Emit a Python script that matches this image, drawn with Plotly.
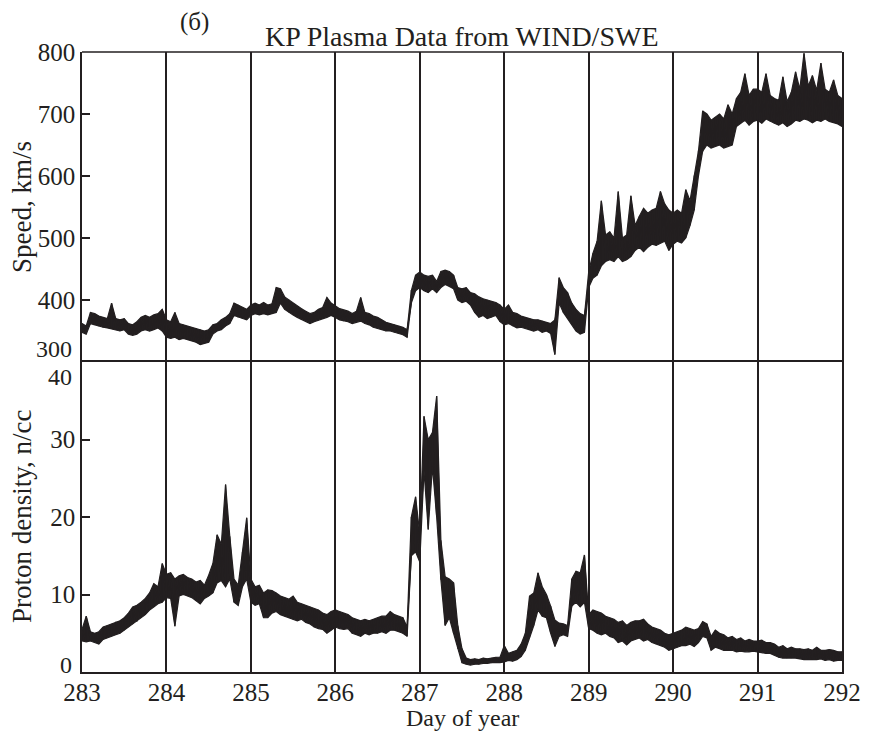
import plotly.graph_objects as go

# time grid: 283.00 .. 292.00 every 0.05 day
days = [round(283 + 0.05 * i, 2) for i in range(181)]

# Solar wind speed (km/s): lower / upper edge of the noisy band read per 0.05 day
speed_lo = [
    348, 345, 362, 360, 358, 356, 355, 354, 352, 350, 352, 345, 343, 345, 350, 352, 350, 352, 355, 350,  # 283
    340, 338, 340, 336, 338, 336, 334, 332, 328, 330, 332, 345, 350, 352, 358, 362, 375, 372, 370, 368,  # 284
    375, 378, 376, 378, 376, 378, 380, 395, 385, 380, 376, 372, 368, 365, 362, 365, 368, 370, 372, 375,  # 285
    372, 368, 366, 365, 362, 364, 366, 362, 360, 356, 355, 352, 350, 350, 348, 346, 344, 340, 395, 415,  # 286
    420, 415, 412, 418, 412, 420, 425, 422, 418, 400, 396, 398, 392, 380, 372, 375, 370, 372, 375, 365,  # 287
    360, 362, 358, 355, 356, 355, 352, 350, 352, 348, 350, 346, 312, 395, 380, 372, 360, 350, 345, 348,  # 288
    420, 435, 440, 455, 462, 465, 462, 470, 462, 465, 470, 480, 485, 478, 485, 490, 488, 492, 495, 480,  # 289
    490, 495, 492, 500, 520, 545, 600, 640, 650, 645, 648, 650, 645, 648, 650, 680, 685, 690, 682, 688,  # 290
    690, 685, 692, 688, 685, 682, 686, 680, 684, 690, 688, 692, 690, 686, 690, 688, 692, 688, 686, 684,  # 291
    680,                                                                                                 # 292
]
speed_hi = [
    362, 358, 380, 378, 374, 372, 370, 395, 370, 368, 370, 362, 360, 365, 372, 375, 372, 376, 378, 385,  # 283
    368, 365, 380, 362, 360, 358, 356, 354, 352, 350, 352, 360, 362, 368, 372, 378, 395, 392, 388, 385,  # 284
    392, 395, 392, 396, 392, 394, 420, 418, 405, 400, 395, 390, 386, 382, 378, 380, 385, 388, 404, 395,  # 285
    390, 386, 384, 382, 378, 382, 404, 380, 378, 374, 372, 368, 364, 362, 360, 358, 356, 352, 415, 440,  # 286
    445, 440, 438, 440, 430, 446, 448, 446, 440, 420, 418, 420, 412, 410, 405, 402, 400, 398, 396, 392,  # 287
    385, 392, 380, 378, 374, 372, 370, 368, 368, 366, 364, 362, 368, 436, 420, 412, 395, 385, 378, 375,  # 288
    445, 475, 495, 560, 505, 510, 500, 575, 500, 505, 568, 520, 535, 548, 540, 545, 548, 575, 555, 545,  # 289
    540, 545, 540, 578, 560, 600, 640, 705, 700, 690, 695, 700, 692, 715, 700, 725, 735, 765, 730, 740,  # 290
    740, 735, 765, 730, 725, 722, 760, 720, 735, 768, 740, 798, 745, 762, 738, 782, 740, 735, 755, 730,  # 291
    725,                                                                                                 # 292
]

# Proton density (n/cc): lower / upper edge of the noisy band read per 0.05 day
dens_lo = [
    4.0, 3.9, 4.0, 3.8, 3.6, 4.2, 4.5, 4.6, 4.8, 5.0, 5.4, 5.8, 6.2, 6.5, 7.0, 7.4, 8.0, 8.4, 8.8, 9.0,  # 283
    9.6, 9.5, 5.9, 9.8, 10.0, 9.8, 9.6, 9.2, 8.8, 9.5, 9.8, 10.2, 11.5, 11.8, 11.0, 12.0, 9.0, 8.6, 11.0, 12.0,  # 284
    9.0, 8.6, 8.8, 7.0, 7.0, 7.6, 7.8, 7.4, 7.2, 7.0, 6.8, 6.6, 6.8, 6.4, 6.2, 5.8, 5.6, 5.5, 5.0, 5.4,  # 285
    5.8, 5.6, 5.5, 5.6, 5.0, 4.8, 4.6, 5.0, 4.8, 5.0, 5.0, 5.2, 5.0, 5.4, 5.4, 5.2, 5.0, 4.6, 15.0, 15.5,  # 286
    14.2, 26.0, 18.4, 26.5, 20.0, 11.9, 6.0, 7.0, 5.0, 3.0, 1.2, 1.0, 0.9, 1.0, 1.0, 1.1, 1.1, 1.2, 1.2, 1.2,  # 287
    1.3, 1.5, 1.4, 1.6, 2.0, 2.8, 4.5, 6.0, 8.0, 7.2, 7.0, 5.0, 3.3, 4.6, 4.8, 4.6, 8.5, 9.0, 8.4, 9.0,  # 288
    5.6, 5.4, 5.0, 4.8, 5.0, 4.6, 4.4, 3.8, 4.0, 3.5, 4.0, 4.2, 4.4, 4.0, 4.2, 3.8, 3.6, 3.4, 3.2, 2.8,  # 289
    3.0, 3.2, 3.4, 3.4, 3.6, 3.3, 3.8, 4.6, 4.4, 2.8, 3.2, 3.0, 2.8, 2.8, 2.8, 2.6, 2.7, 2.6, 2.6, 2.7,  # 290
    2.6, 2.5, 2.4, 2.4, 2.2, 1.9, 1.8, 1.8, 1.8, 1.8, 1.7, 1.6, 1.6, 1.6, 1.6, 1.7, 1.5, 1.6, 1.4, 1.5,  # 291
    1.5,                                                                                                 # 292
]
dens_hi = [
    5.5, 7.2, 5.2, 5.0, 5.2, 5.8, 6.0, 6.2, 6.5, 6.6, 7.0, 7.6, 8.4, 8.6, 9.0, 9.5, 10.2, 11.4, 11.0, 14.0,  # 283
    12.6, 12.8, 12.0, 12.4, 12.6, 12.2, 12.0, 11.6, 11.8, 11.2, 12.5, 14.0, 17.7, 16.5, 24.2, 17.5, 12.0, 11.2, 15.5, 19.9,  # 284
    12.0, 11.0, 11.2, 10.2, 10.6, 10.5, 10.2, 9.8, 9.6, 9.4, 9.8, 9.0, 8.8, 8.6, 8.4, 8.2, 8.0, 7.6, 7.4, 7.8,  # 285
    8.0, 7.8, 7.6, 7.4, 7.0, 6.8, 6.6, 6.8, 6.6, 6.8, 7.0, 7.2, 7.2, 7.8, 7.4, 7.2, 7.0, 5.8, 20.0, 22.6,  # 286
    17.8, 33.0, 30.0, 30.9, 35.6, 17.0, 12.3, 12.0, 11.5, 6.0, 3.0, 1.8, 1.6, 1.7, 1.6, 1.8, 1.7, 1.8, 1.9, 1.9,  # 287
    3.4, 2.4, 2.6, 2.8, 3.6, 5.0, 9.8, 10.2, 12.8, 11.0, 10.0, 8.5, 6.7, 6.3, 6.2, 6.0, 12.0, 13.0, 12.8, 15.1,  # 288
    7.4, 8.0, 7.8, 7.6, 7.2, 7.0, 6.8, 6.4, 6.6, 6.0, 6.4, 6.6, 6.6, 6.8, 6.2, 5.8, 5.6, 5.4, 5.0, 4.8,  # 289
    5.0, 5.2, 5.4, 5.8, 5.6, 5.4, 5.6, 6.5, 6.2, 4.6, 5.4, 5.0, 4.8, 4.4, 4.6, 4.2, 4.4, 4.0, 4.2, 4.0,  # 290
    4.0, 4.1, 3.8, 3.8, 3.6, 3.2, 3.4, 3.0, 3.2, 3.0, 3.0, 2.9, 3.0, 2.8, 3.2, 2.8, 2.8, 2.9, 2.8, 2.6,  # 291
    2.6,                                                                                                 # 292
]

day_ticks = [283, 284, 285, 286, 287, 288, 289, 290, 291, 292]
speed_ticks = [300, 400, 500, 600, 700, 800]
dens_ticks = [0, 10, 20, 30, 40]

INK = "#231f20"
FONT = "Liberation Serif"


def band_polygon(t, lo, hi):
    return list(t) + list(t)[::-1], list(hi) + list(lo)[::-1]


def band_path(t, lo, hi):
    xs, ys = [], []
    for ti, a, b in zip(t, lo, hi):
        xs += [ti, ti]
        ys += [a, b]
    return xs, ys


fig = go.Figure()
for lo, hi, xa, ya in [(speed_lo, speed_hi, "x", "y"), (dens_lo, dens_hi, "x2", "y2")]:
    px, py = band_polygon(days, lo, hi)
    fig.add_trace(go.Scatter(x=px, y=py, mode="lines", fill="toself", fillcolor=INK,
                             line=dict(color=INK, width=1.2), xaxis=xa, yaxis=ya,
                             showlegend=False, hoverinfo="skip"))
    zx, zy = band_path(days, lo, hi)
    fig.add_trace(go.Scatter(x=zx, y=zy, mode="lines", line=dict(color=INK, width=1.2),
                             xaxis=xa, yaxis=ya, showlegend=False, hoverinfo="skip"))

tick_font = dict(family=FONT, size=25, color=INK)

fig.update_layout(
    width=873, height=732,
    margin=dict(l=82, r=22, t=52, b=60),
    paper_bgcolor="white", plot_bgcolor="white",
    font=dict(family=FONT, size=25, color=INK),
    xaxis=dict(domain=[0, 1], anchor="y", range=[283, 292], tickvals=day_ticks,
               showticklabels=False, ticks="", showgrid=True, gridcolor=INK, gridwidth=1.5,
               showline=False, zeroline=False),
    yaxis=dict(domain=[0.5, 1], anchor="x", range=[300, 800], tickvals=speed_ticks[1:],
               ticks="inside", ticklen=8, tickwidth=1.5, tickcolor=INK, showgrid=False,
               showline=True, linecolor=INK, linewidth=1.5, mirror=True, zeroline=False,
               tickfont=tick_font),
    xaxis2=dict(domain=[0, 1], anchor="y2", range=[283, 292], tickvals=day_ticks,
                ticks="", showgrid=True, gridcolor=INK, gridwidth=1.5, ticklabelstandoff=-3,
                showline=True, linecolor=INK, linewidth=1.5, mirror=True, zeroline=False,
                tickfont=tick_font),
    yaxis2=dict(domain=[0, 0.5], anchor="x2", range=[0, 40], tickvals=dens_ticks[1:-1],
                ticks="inside", ticklen=8, tickwidth=1.5, tickcolor=INK, showgrid=False,
                showline=True, linecolor=INK, linewidth=1.5, mirror=True, zeroline=False,
                tickfont=tick_font),
    shapes=[dict(type="line", xref="paper", yref="paper", x0=0, x1=1, y0=1, y1=1,
                 line=dict(color=INK, width=1.5))],
)

ann = [
    dict(text="KP Plasma Data from WIND/SWE", xref="paper", yref="paper", x=0.5, y=1,
         xanchor="center", yanchor="middle", yshift=16, showarrow=False,
         font=dict(family=FONT, size=28, color=INK)),
    dict(text="(б)", xref="paper", yref="paper", x=0.148, y=1, xanchor="center",
         yanchor="middle", yshift=30, showarrow=False, font=dict(family=FONT, size=25, color=INK)),
    dict(text="Speed, km/s", xref="paper", yref="paper", x=0, y=0.75, xshift=-60,
         xanchor="center", yanchor="middle", textangle=-90, showarrow=False,
         font=dict(family=FONT, size=27, color=INK)),
    dict(text="Proton density, n/cc", xref="paper", yref="paper", x=0, y=0.25, xshift=-60,
         xanchor="center", yanchor="middle", textangle=-90, showarrow=False,
         font=dict(family=FONT, size=27, color=INK)),
    dict(text="Day of year", xref="paper", yref="paper", x=0.5, y=0, yshift=-46,
         xanchor="center", yanchor="middle", showarrow=False, borderpad=0,
         font=dict(family=FONT, size=24, color=INK)),
    dict(text=str(speed_ticks[0]), xref="paper", yref="y", x=0, y=speed_ticks[0], xshift=-8,
         yshift=13, xanchor="right", yanchor="middle", showarrow=False,
         font=dict(family=FONT, size=24, color=INK)),
    dict(text=str(dens_ticks[-1]), xref="paper", yref="y2", x=0, y=dens_ticks[-1], xshift=-8,
         yshift=-15, xanchor="right", yanchor="middle", showarrow=False,
         font=dict(family=FONT, size=24, color=INK)),
    dict(text=str(dens_ticks[0]), xref="paper", yref="y2", x=0, y=dens_ticks[0], xshift=-8,
         yshift=7, xanchor="right", yanchor="middle", showarrow=False,
         font=dict(family=FONT, size=24, color=INK)),
]
fig.update_layout(annotations=ann)

fig.write_html("out.html")
